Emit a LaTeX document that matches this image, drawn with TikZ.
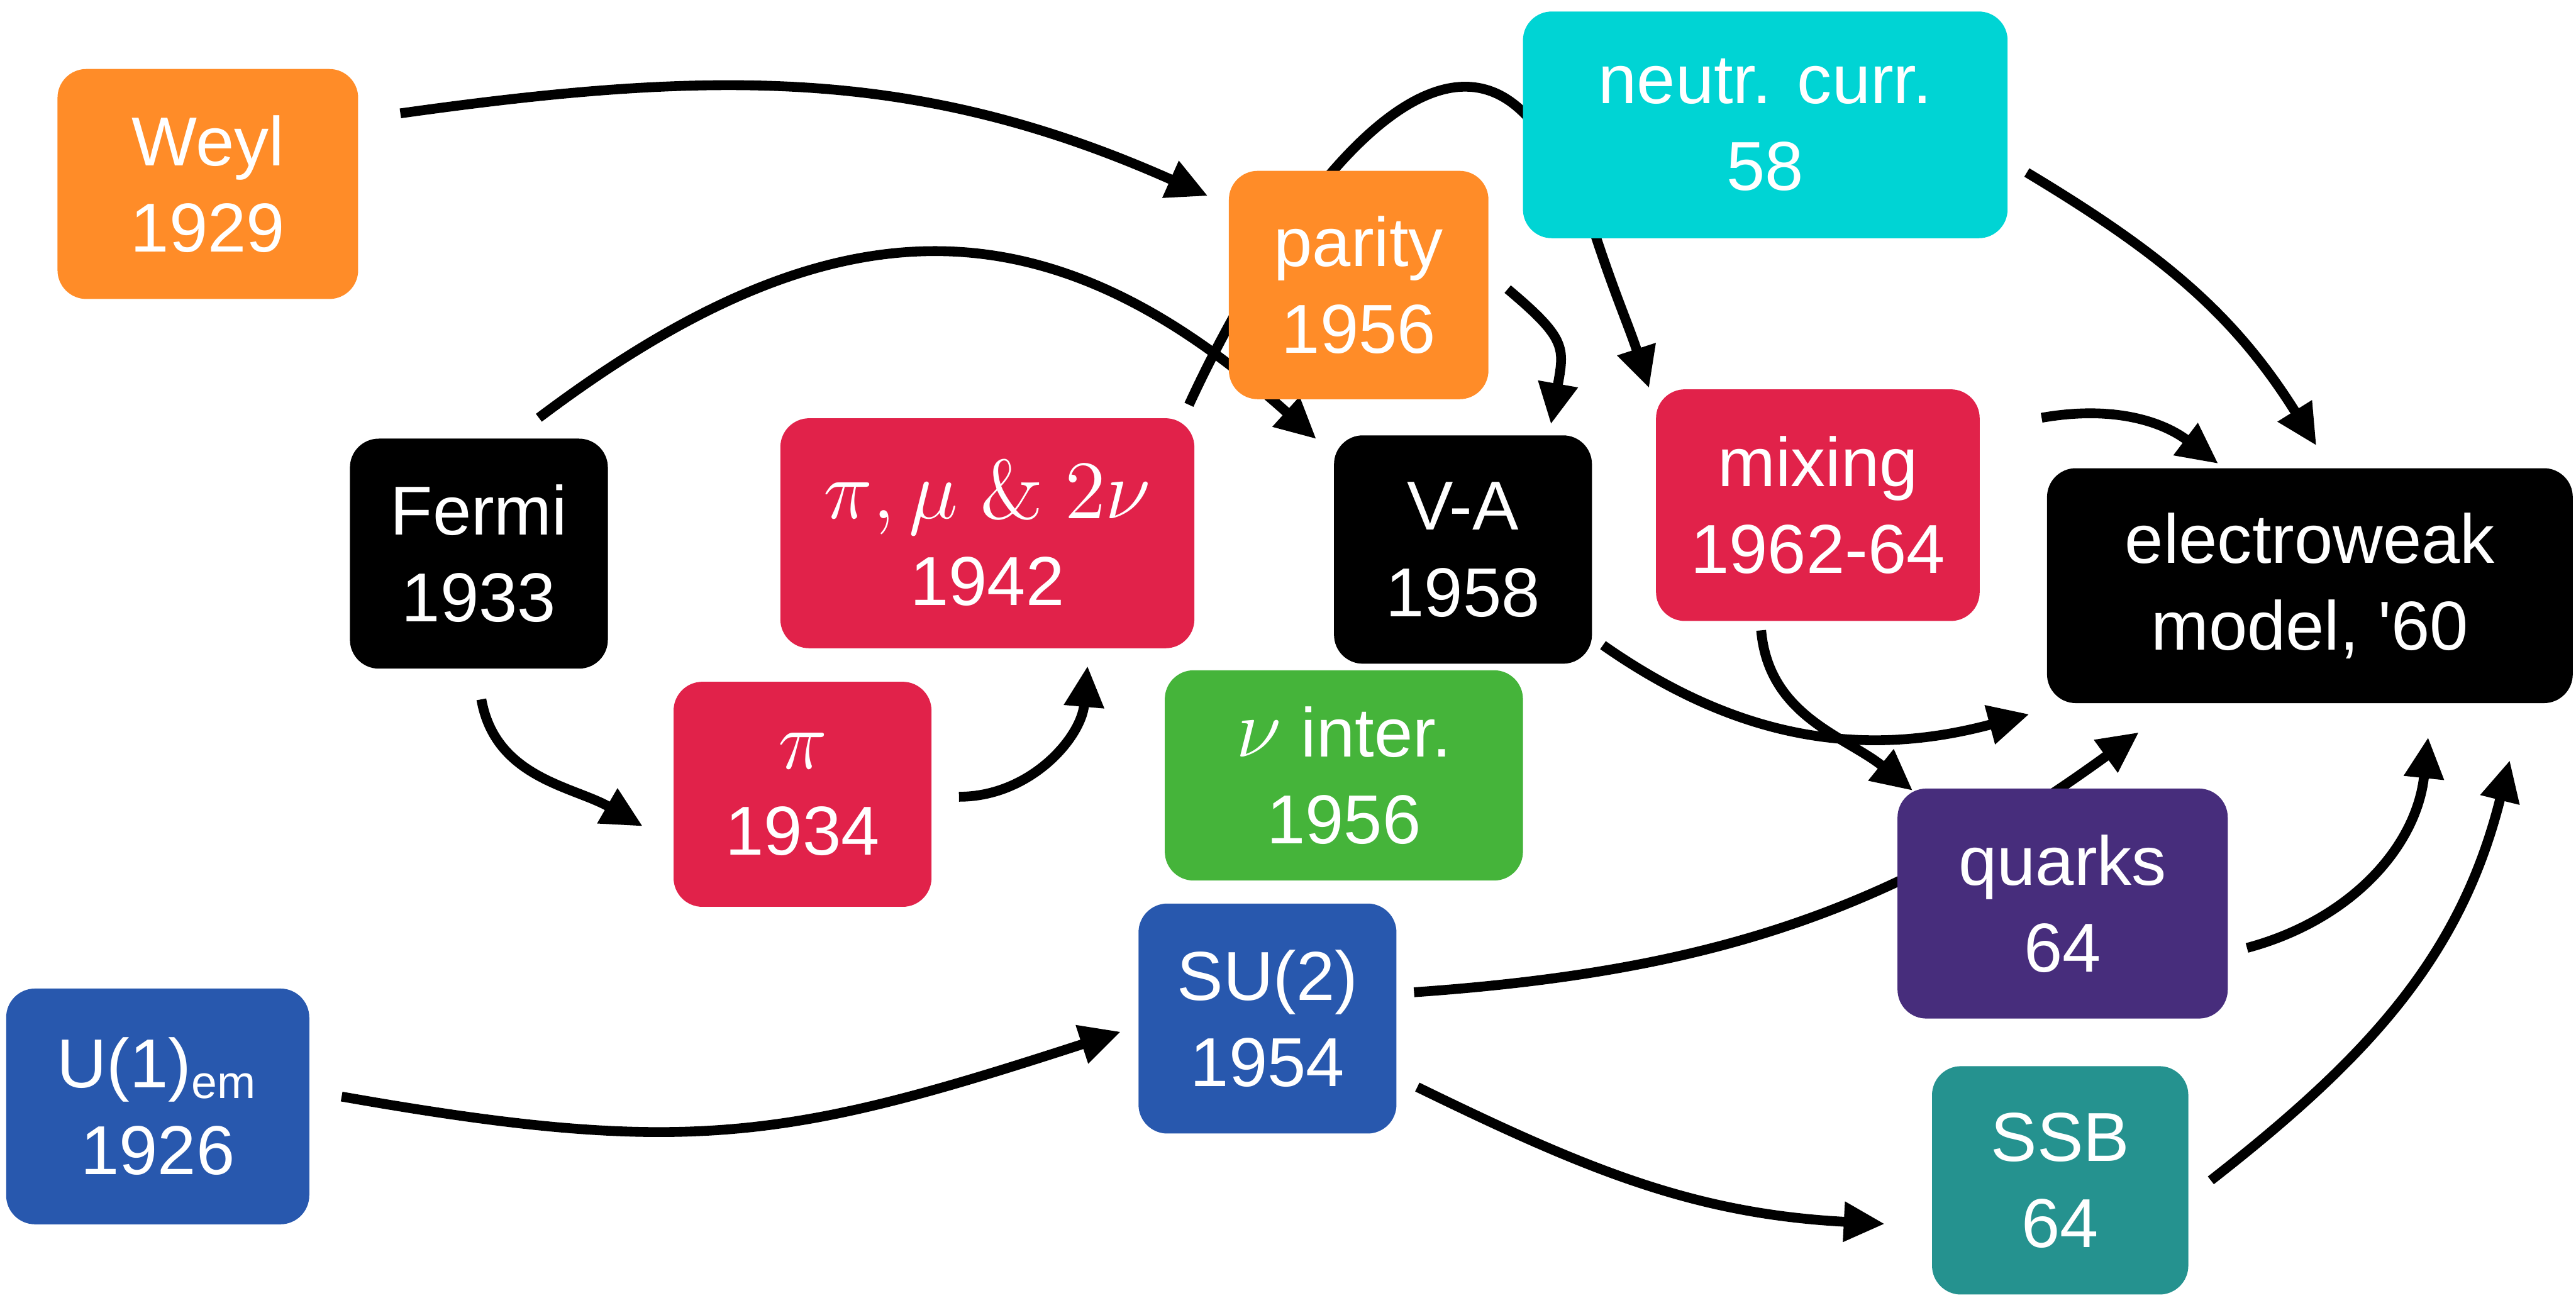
\documentclass[tikz,border=0pt]{standalone}
\usepackage[no-math]{fontspec}
\setmainfont{Liberation Sans}
\usetikzlibrary{arrows.meta,backgrounds,calc}

\definecolor{orng}{HTML}{FF8C28}
\definecolor{cyn}{HTML}{00D4D4}
\definecolor{crim}{HTML}{E1224A}
\definecolor{grn}{HTML}{45B43A}
\definecolor{purp}{HTML}{472D7C}
\definecolor{teal}{HTML}{25928F}
\definecolor{blu}{HTML}{2858AE}

\newcommand{\gk}[1]{{\fontsize{13.5}{15}\selectfont$#1$}}

\tikzset{
  box/.style={rounded corners=5pt, text=white, align=center, inner sep=0pt,
    font=\fontsize{12}{15}\selectfont, execute at begin node={\rule{0pt}{9.8pt}}},
  arr/.style={-{Triangle[length=0.25cm,width=0.23cm]}, line width=1.7pt},
}

\begin{document}
\begin{tikzpicture}
\useasboundingbox (0,0) rectangle (15.68,7.90);

\node[box, fill=orng, minimum width=1.83cm, minimum height=1.40cm] (weyl) at (1.265,6.78) {Weyl\\1929};
\node[box, fill=orng, minimum width=1.58cm, minimum height=1.39cm] (parity) at (8.27,6.165) {parity\\1956};
\node[box, fill=cyn, minimum width=2.95cm, minimum height=1.38cm] (neutr) at (10.745,7.14) {neutr. curr.\\58};
\node[box, fill=black, minimum width=1.57cm, minimum height=1.40cm] (fermi) at (2.915,4.53) {Fermi\\1933};
\node[box, fill=crim, minimum width=2.52cm, minimum height=1.40cm] (pimu) at (6.01,4.654) {\gk{\pi, \mu\ \&\ 2\nu}\\1942};
\node[box, fill=black, minimum width=1.57cm, minimum height=1.39cm] (va) at (8.905,4.555) {V-A\\1958};
\node[box, fill=crim, minimum width=1.97cm, minimum height=1.41cm] (mixing) at (11.065,4.825) {mixing\\1962-64};
\node[box, fill=black, minimum width=3.20cm, minimum height=1.43cm] (ew) at (14.06,4.335) {electroweak\\model, \textquotesingle 60};
\node[box, fill=crim, minimum width=1.57cm, minimum height=1.37cm] (pi) at (4.885,3.065) {\gk{\pi}\\1934};
\node[box, fill=grn, minimum width=2.18cm, minimum height=1.28cm] (nu) at (8.18,3.18) {\gk{\nu} inter.\\1956};
\node[box, fill=purp, minimum width=2.01cm, minimum height=1.40cm] (quarks) at (12.555,2.40) {quarks\\64};
\node[box, fill=teal, minimum width=1.56cm, minimum height=1.39cm] (ssb) at (12.54,0.715) {SSB\\64};
\node[box, fill=blu, minimum width=1.57cm, minimum height=1.40cm] (su2) at (7.715,1.70) {SU(2)\\1954};
\node[box, fill=blu, minimum width=1.845cm, minimum height=1.435cm] (u1) at (0.96,1.165) {U(1)\textsubscript{em}\\1926};

\begin{scope}[on background layer]
  \draw[arr] ($(weyl.east)+(0.25,0.43)$) to[out=8,in=156] ($(parity.north west)+(-0.12,-0.16)$);
  \draw[arr] ($(fermi.north)+(0.365,0.12)$) to[out=37,in=138,looseness=1.2] ($(va.north west)+(-0.10,-0.03)$);
  \draw[arr] ($(pimu.north east)+(-0.04,0.075)$) .. controls +(0.6,1.3) and +(-0.7,1.3) .. ($(neutr.west)+(0.3,-0.38)$);
  \draw[arr] ($(parity.east)+(0.11,-0.025)$) to[out=-40,in=80,looseness=1.4] ($(va.north)+(0.535,0.06)$);
  \draw[arr] ($(neutr.south west)+(0.44,0.05)$) to[out=-72,in=108] ($(mixing.north west)+(-0.035,0)$);
  \draw[arr] ($(neutr.east)+(0.11,-0.29)$) to[out=-31,in=122] ($(ew.north)+(0.04,0.13)$);
  \draw[arr] ($(mixing.north east)+(0.37,-0.18)$) to[out=10,in=143] ($(ew.north west)+(1.05,0.02)$);
  \draw[arr] ($(va.south east)+(0.06,0.12)$) to[out=-35,in=195] ($(ew.south west)+(-0.1,-0.06)$);
  \draw[arr] ($(mixing.south)+(-0.345,-0.05)$) to[out=-85,in=141] ($(quarks.north west)+(0.1,-0.02)$);
  \draw[arr] ($(su2.east)+(0.10,0.16)$) to[out=4,in=216] ($(ew.south)+(-1.04,-0.17)$);
  \draw[arr] ($(quarks.east)+(0.11,-0.27)$) to[out=15,in=264] ($(ew.south)+(0.72,-0.2)$);
  \draw[arr] ($(ssb.east)+(0.13,0)$) to[out=38,in=256] ($(ew.south east)+(-0.39,-0.34)$);
  \draw[arr] ($(u1.east)+(0.19,0.06)$) to[out=-10,in=198,looseness=1.15] ($(su2.west)+(-0.10,-0.08)$);
  \draw[arr] ($(su2.south east)+(0.12,0.29)$) to[out=-26,in=177] ($(ssb.west)+(-0.28,-0.265)$);
  \draw[arr] ($(fermi.south)+(0.015,-0.18)$) to[out=-80,in=150] ($(pi.west)+(-0.18,-0.195)$);
  \draw[arr] ($(pi.east)+(0.16,-0.015)$) to[out=0,in=-95] ($(pimu.south)+(0.61,-0.10)$);
\end{scope}
\end{tikzpicture}
\end{document}
